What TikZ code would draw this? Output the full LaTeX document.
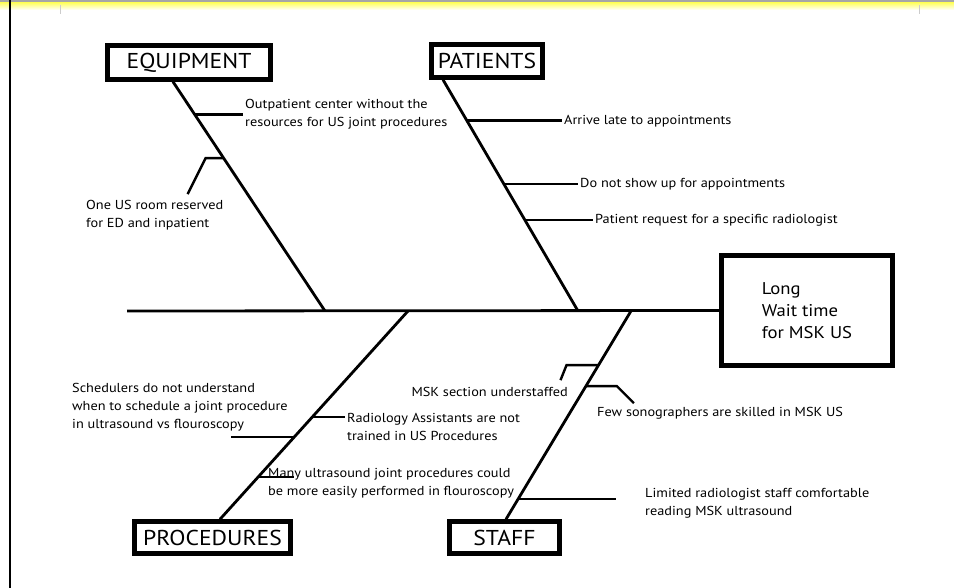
\documentclass[tikz,border=0pt]{standalone}
\usepackage{fontspec}
\setmainfont[FakeStretch=1.1]{PT Sans}
\usetikzlibrary{calc, positioning}

\begin{document}
\begin{tikzpicture}[x=1pt, y=-1pt,
    cause/.style={draw, line width=4.5pt, inner sep=0pt, font=\fontsize{21.5}{24}\selectfont},
    bone/.style={line width=2.8pt},
    twig/.style={line width=2.4pt},
    note/.style={inner sep=2pt, align=left, font=\fontsize{13}{18}\selectfont}]
    \useasboundingbox (0,0) rectangle (954,588);
    % page edge of the screenshot
    \fill[gray!70] (0,0) rectangle (954,3);
    \shade[top color=yellow!60, bottom color=white] (0,3) rectangle (954,10);
    \draw[line width=2pt] (10,0) -- (10,588);
    \draw[gray!40, line width=1pt] (60,5) -- (60,14);
    \draw[gray!40, line width=1pt] (919,5) -- (919,14);

    % head and main causes
    \node (effect)[draw, line width=5pt, minimum width=171, minimum height=110, note, font=\fontsize{17}{22}\selectfont] at (807,310.5) {Long\\Wait time\\for MSK US};
    \node (equip)[cause, minimum width=163, minimum height=34] at (189,62.5) {EQUIPMENT};
    \node (pat)[cause, minimum width=111, minimum height=33] at (487,61) {PATIENTS};
    \node (proc)[cause, minimum width=156, minimum height=32] at (212.5,537.5) {PROCEDURES};
    \node (staff)[cause, minimum width=110, minimum height=32] at (504.5,537.5) {STAFF};

    \coordinate (tail) at (127,311);
    \coordinate (s-eq) at (325,311);
    \coordinate (s-pa) at (578,311);
    \coordinate (s-pr) at (408,311);
    \coordinate (s-st) at (631,311);
    \coordinate (eq-foot) at ([xshift=-16]equip.south);
    \coordinate (pa-foot) at ([xshift=-44]pat.south);
    \coordinate (pr-foot) at ([xshift=7.5]proc.north);
    \coordinate (st-foot) at ([xshift=1.5]staff.north);

    \draw[bone] (tail) -- (effect.west);
    \draw[bone] (eq-foot) -- (s-eq);
    \draw[bone] (pa-foot) -- (s-pa);
    \draw[bone] (pr-foot) -- (s-pr);
    \draw[bone] (st-foot) -- (s-st);

    % points on the bones
    \coordinate (eq-1) at ($(eq-foot)!0.143!(s-eq)$);
    \coordinate (eq-2) at ($(eq-foot)!0.333!(s-eq)$);
    \coordinate (pa-1) at ($(pa-foot)!0.177!(s-pa)$);
    \coordinate (pa-2) at ($(pa-foot)!0.450!(s-pa)$);
    \coordinate (pa-3) at ($(pa-foot)!0.606!(s-pa)$);
    \coordinate (pr-1) at ($(pr-foot)!0.394!(s-pr)$);
    \coordinate (pr-2) at ($(pr-foot)!0.490!(s-pr)$);
    \coordinate (pr-3) at ($(pr-foot)!0.202!(s-pr)$);
    \coordinate (st-1) at ($(st-foot)!0.740!(s-st)$);
    \coordinate (st-2) at ($(st-foot)!0.639!(s-st)$);
    \coordinate (st-3) at ($(st-foot)!0.096!(s-st)$);

    % sub-causes
    \node (t-out)[note, anchor=west] at (243,114) {Outpatient center without the\\resources for US joint procedures};
    \node (t-room)[note, anchor=north west] at (84,198) {One US room reserved\\for ED and inpatient};
    \node (t-late)[note, anchor=west] at (562,121) {Arrive late to appointments};
    \node (t-show)[note, anchor=west] at (578,184) {Do not show up for appointments};
    \node (t-req)[note, anchor=west] at (593,220) {Patient request for a specific radiologist};
    \node (t-sched)[note, anchor=south west] at (70,433) {Schedulers do not understand\\when to schedule a joint procedure\\in ultrasound vs flouroscopy};
    \node (t-ra)[note, anchor=north west] at (345,411) {Radiology Assistants are not\\trained in US Procedures};
    \node (t-many)[note, anchor=north west] at (266,466) {Many ultrasound joint procedures could\\be more easily performed in flouroscopy};
    \node (t-msk)[note, anchor=east] at (570,392) {MSK section understaffed};
    \node (t-few)[note, anchor=west] at (595,413) {Few sonographers are skilled in MSK US};
    \node (t-lim)[note, anchor=west] at (643,503) {Limited radiologist staff comfortable\\reading MSK ultrasound};

    \draw[twig] (eq-1) -- (eq-1 -| t-out.west);
    \draw[twig] (eq-2) -- ++(-18,0) -- ++(-18,36);
    \draw[twig] (pa-1) -- (pa-1 -| t-late.west);
    \draw[twig] (pa-2) -- (pa-2 -| t-show.west);
    \draw[twig] (pa-3) -- (pa-3 -| t-req.west);
    \draw[twig] (pr-1) -- ++(-63,0);
    \draw[twig] (pr-2) -- (pr-2 -| t-ra.west);
    \draw[twig] (pr-3) -- ++(36,0);
    \draw[twig] (st-1) -- ++(-32,0) -- ++(-6,15);
    \draw[twig] (st-2) -- ++(31,0) -- ++(17,17);
    \draw[twig] (st-3) -- ++(98,0);
\end{tikzpicture}
\end{document}
